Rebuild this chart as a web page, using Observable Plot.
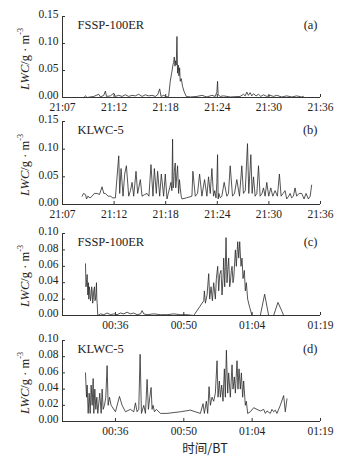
<!DOCTYPE html>
<html><head><meta charset="utf-8">
<script src="https://cdn.jsdelivr.net/npm/d3@7"></script>
<script src="https://cdn.jsdelivr.net/npm/@observablehq/plot@0.6"></script>
<style>
body{margin:0;background:#fff;}
#wrap{position:relative;width:354px;height:456px;overflow:hidden;font-family:"Liberation Serif","Times New Roman","DejaVu Serif",serif;color:#222;}
.panel{position:absolute;left:0;}
.ylab{position:absolute;left:25px;white-space:nowrap;font-size:12.5px;font-family:"Liberation Serif","Times New Roman","DejaVu Serif",serif;transform:translate(-50%,-50%) rotate(-90deg);}
.ylab sup{font-size:8px;vertical-align:6px;line-height:0;}
.xlab{position:absolute;left:205px;top:447px;transform:translate(-50%,-50%);font-family:"Noto Sans CJK SC",sans-serif;font-size:12.5px;white-space:nowrap;}
</style></head>
<body><div id="wrap"></div>
<script>
// ---- tick labels ----
const abTicks = [0, 6, 12, 18, 24, 30];
const abLabels = ["21:07", "21:12", "21:18", "21:24", "21:30", "21:36"];
const cdTicks = [36, 50, 64, 78];
const cdLabels = ["00:36", "00:50", "01:04", "01:19"];
const abYTicks = [0, 0.05, 0.10, 0.15];
const cdYTicks = [0, 0.02, 0.04, 0.06, 0.08, 0.10];

// ---- (a) FSSP-100ER, evening flight (minutes after 21:07 on nominal axis) ----
const aT = [2.48,2.67,2.86,3.64,4.22,4.41,4.80,4.99,5.11,5.57,5.96,6.15,6.54,6.92,7.31,7.70,8.09,8.47,8.86,9.25,9.63,10.02,10.41,10.79,11.06,11.30,11.45,11.76,12.15,12.34,12.53,12.69,12.84,12.92,13.00,13.08,13.15,13.23,13.31,13.38,13.46,13.54,13.62,13.69,13.81,13.97,14.16,14.39,14.86,15.63,16.21,16.79,17.37,17.76,17.95,18.03,18.10,18.34,18.72,19.50,20.66,21.04,21.24,21.43,21.62,21.82,22.01,22.21,22.51,22.79,23.06,23.37,23.75,24.14,24.53,24.91,25.49,26.07,26.65,27.23,27.81,28.01];
const aV = [0,0.003,0,0.002,0.006,0.001,0.004,0.012,0.002,0.003,0.008,0.002,0.004,0.002,0.005,0.002,0.004,0.003,0.006,0.002,0.005,0.003,0.004,0.002,0.005,0.016,0.002,0.004,0.001,0.002,0.03,0.045,0.06,0.065,0.075,0.058,0.068,0.06,0.113,0.045,0.06,0.04,0.055,0.03,0.035,0.02,0.01,0.002,0.001,0.002,0.004,0.001,0.004,0.002,0.01,0.03,0.005,0.002,0.003,0.001,0.002,0.006,0.003,0.01,0.004,0.009,0.003,0.007,0.003,0.006,0.002,0.005,0.002,0.004,0.002,0.004,0.001,0.003,0.001,0.003,0.001,0.002];

// ---- (b) KLWC-5, evening flight ----
const bT = [2.28,2.45,2.67,2.80,2.94,3.20,3.44,3.70,4.02,4.30,4.60,4.80,4.99,5.30,5.57,5.85,6.15,6.54,6.65,6.81,7.04,7.23,7.43,7.70,7.90,8.09,8.28,8.55,8.74,9.05,9.25,9.55,9.83,10.05,10.29,10.52,10.68,10.91,11.06,11.30,11.49,11.76,11.95,12.15,12.30,12.46,12.61,12.72,12.80,12.86,12.92,13.00,13.11,13.17,13.23,13.30,13.38,13.50,13.60,13.69,13.80,13.89,14.40,15.05,15.16,15.44,15.70,15.94,16.21,16.52,16.79,16.98,17.18,17.37,17.56,17.70,17.85,17.95,18.03,18.10,18.18,18.35,18.53,18.80,19.11,19.30,19.50,19.77,20.00,20.27,20.58,20.85,21.04,21.25,21.51,21.66,21.90,22.05,22.21,22.40,22.60,22.79,22.98,23.20,23.37,23.56,23.75,23.98,24.22,24.45,24.72,24.99,25.22,25.42,25.65,25.88,26.07,26.30,26.46,26.65,26.85,27.04,27.23,27.50,27.81,28.09,28.32,28.59,28.80,28.97];
const bV = [0.015,0.02,0.018,0.01,0.015,0.012,0.015,0.02,0.02,0.018,0.032,0.02,0.02,0.015,0.015,0.012,0.012,0.088,0.02,0.065,0.015,0.055,0.07,0.015,0.025,0.04,0.015,0.06,0.02,0.045,0.015,0.018,0.02,0.015,0.072,0.015,0.065,0.02,0.06,0.015,0.055,0.015,0.055,0.01,0.02,0.03,0.04,0.025,0.118,0.03,0.035,0.06,0.075,0.03,0.04,0.055,0.07,0.02,0.045,0.03,0.015,0.01,0.012,0.015,0.06,0.015,0.02,0.055,0.015,0.045,0.015,0.05,0.02,0.065,0.015,0.025,0.012,0.04,0.09,0.01,0.02,0.012,0.015,0.04,0.015,0.02,0.07,0.015,0.02,0.045,0.015,0.07,0.02,0.025,0.11,0.02,0.09,0.02,0.05,0.015,0.02,0.07,0.015,0.02,0.03,0.015,0.04,0.015,0.03,0.015,0.025,0.015,0.055,0.015,0.02,0.025,0.01,0.015,0.02,0.012,0.015,0.03,0.015,0.02,0.02,0.01,0.02,0.01,0.015,0.035];

// ---- (c) FSSP-100ER, night flight (minutes after 00:00) ----
const cT = [29.86,29.96,30.07,30.20,30.34,30.45,30.54,30.65,30.75,30.88,31.02,31.12,31.23,31.33,31.43,31.55,31.70,31.80,31.91,32.01,32.11,32.18,32.25,32.38,32.93,33.61,34.29,34.98,35.66,36.34,37.02,37.71,38.39,39.07,39.75,40.43,41.12,41.46,41.80,42.48,43.84,45.21,46.57,47.94,49.30,50.67,52.03,54.08,54.21,54.42,54.76,55.10,55.30,55.58,55.85,56.12,56.46,56.67,56.94,57.15,57.35,57.62,57.83,58.03,58.17,58.38,58.51,58.65,58.85,59.06,59.19,59.40,59.53,59.74,59.88,60.08,60.22,60.42,60.56,60.76,60.90,61.04,61.25,61.45,61.58,61.72,61.92,62.13,62.26,62.40,62.60,62.81,63.08,63.49,63.97,65.67,66.56,67.38,68.40,69.29,70.11,70.45,71.13];
const cV = [0.063,0.035,0.04,0.05,0.025,0.04,0.02,0.035,0.03,0.018,0.025,0.035,0.03,0.015,0.02,0.03,0.035,0.018,0.02,0.028,0.04,0.02,0.015,0,0.002,0.001,0.003,0.001,0.002,0.001,0.003,0.002,0.004,0.002,0.003,0.001,0.002,0.006,0.002,0.001,0.002,0.001,0.001,0.002,0.001,0.001,0,0.018,0.03,0.015,0.025,0.051,0.02,0.035,0.018,0.04,0.02,0.045,0.06,0.03,0.05,0.055,0.025,0.045,0.07,0.035,0.06,0.095,0.04,0.06,0.07,0.035,0.04,0.055,0.06,0.04,0.045,0.065,0.08,0.06,0.075,0.09,0.07,0.09,0.075,0.06,0.07,0.045,0.05,0.055,0.03,0.04,0.02,0.01,0,0,0.026,0,0,0.016,0.005,0,0];

// ---- (d) KLWC-5, night flight ----
const dT = [29.86,30.07,30.20,30.41,30.61,30.82,31.02,31.23,31.43,31.57,31.77,31.98,32.18,32.38,32.79,33.07,33.27,33.48,33.75,34.02,34.29,34.50,34.77,35.11,36.00,36.82,37.36,38.05,39.07,39.75,40.09,40.43,40.77,41.05,41.32,41.80,42.14,42.48,42.75,43.03,43.30,43.50,43.71,43.98,44.39,45.21,46.57,49.30,51.35,53.39,53.94,54.21,54.62,54.89,55.17,55.44,55.78,56.12,56.46,56.81,57.01,57.28,57.49,57.76,58.03,58.31,58.51,58.72,58.99,59.19,59.53,59.88,60.08,60.35,60.56,60.90,61.10,61.31,61.58,61.79,62.06,62.26,62.60,62.81,63.08,63.63,64.31,65.67,66.36,66.70,67.04,67.72,68.06,68.40,68.74,69.08,69.77,70.45,70.79,71.13];
const dV = [0.06,0.03,0.045,0.01,0.035,0.01,0.045,0.02,0.053,0.01,0.04,0.015,0.03,0.01,0.035,0.01,0.04,0.015,0.02,0.03,0.069,0.02,0.03,0.02,0.012,0.031,0.02,0.012,0.015,0.012,0.023,0.012,0.015,0.083,0.01,0.02,0.01,0.052,0.015,0.03,0.042,0.015,0.02,0.012,0.015,0.01,0.01,0.012,0.014,0.01,0.022,0.01,0.025,0.01,0.043,0.02,0.03,0.025,0.035,0.075,0.03,0.05,0.03,0.045,0.025,0.065,0.03,0.088,0.035,0.06,0.03,0.07,0.04,0.055,0.035,0.075,0.04,0.065,0.04,0.06,0.03,0.05,0.02,0.025,0.01,0.012,0.017,0.013,0.015,0.01,0.013,0.01,0.015,0.012,0.014,0.01,0.02,0.032,0.012,0.028];

const panels = [
  {t:aT, v:aV, name:"FSSP-100ER", tag:"(a)", xDomain:[0,30], xTicks:abTicks, xLabels:abLabels, yDomain:[0,0.15], yTicks:abYTicks, top:0, height:114},
  {t:bT, v:bV, name:"KLWC-5", tag:"(b)", xDomain:[0,30], xTicks:abTicks, xLabels:abLabels, yDomain:[0,0.15], yTicks:abYTicks, top:105, height:116},
  {t:cT, v:cV, name:"FSSP-100ER", tag:"(c)", xDomain:[25.15,78], xTicks:cdTicks, xLabels:cdLabels, yDomain:[0,0.10], yTicks:cdYTicks, top:217, height:115},
  {t:dT, v:dV, name:"KLWC-5", tag:"(d)", xDomain:[25.15,78], xTicks:cdTicks, xLabels:cdLabels, yDomain:[0,0.10], yTicks:cdYTicks, top:324, height:114}
];

const FONT = '"Liberation Serif", "Times New Roman", "DejaVu Serif", serif';
const wrap = document.getElementById("wrap");
const W = 354, ML = 62, MR = 34, MT = 16, MB = 17;
for (const p of panels) {
  const data = p.t.map((x, i) => ({x, y: p.v[i]}));
  const innerH = p.height - MT - MB, innerW = W - ML - MR;
  const svg = Plot.plot({
    width: W, height: p.height,
    marginLeft: ML, marginRight: MR, marginTop: MT, marginBottom: MB,
    style: {fontFamily: FONT, fontSize: "11.5px", background: "transparent", color: "#222", overflow: "visible"},
    x: {domain: p.xDomain},
    y: {domain: p.yDomain},
    marks: [
      Plot.line(data, {x: "x", y: "y", stroke: "#2a2a2a", strokeWidth: 0.8}),
      Plot.ruleY([p.yDomain[0]], {stroke: "#333", strokeWidth: 1}),
      Plot.ruleX([p.xDomain[0]], {stroke: "#333", strokeWidth: 1}),
      Plot.tickX(p.xTicks, {x: d => d, insetTop: innerH - 3, stroke: "#333"}),
      Plot.tickY(p.yTicks, {y: d => d, insetRight: innerW - 3, stroke: "#333"}),
      Plot.axisX({ticks: p.xTicks, tickFormat: d => p.xLabels[p.xTicks.indexOf(d)], tickSize: 0, tickPadding: 5, label: null, fontFamily: FONT}),
      Plot.axisY({ticks: p.yTicks, tickFormat: d => d.toFixed(2), tickSize: 0, tickPadding: 4, dy: -2, label: null, fontFamily: FONT}),
      Plot.text([p.name], {frameAnchor: "top-left", textAnchor: "start", lineAnchor: "middle", dx: 15, dy: 8, fontSize: 12.5, fill: "#222", fontFamily: FONT}),
      Plot.text([p.tag], {frameAnchor: "top-right", textAnchor: "end", lineAnchor: "middle", dx: -3, dy: 8, fontSize: 12.5, fill: "#222", fontFamily: FONT})
    ]
  });
  svg.classList.add("panel");
  svg.style.top = p.top + "px";
  wrap.appendChild(svg);
  const yl = document.createElement("div");
  yl.className = "ylab";
  yl.style.top = (p.top + MT + innerH / 2 + 2) + "px";
  yl.innerHTML = "<i>LWC</i>/g · m<sup>-3</sup>";
  wrap.appendChild(yl);
}
const xl = document.createElement("div");
xl.className = "xlab";
xl.textContent = "时间/BT";
wrap.appendChild(xl);
</script>
</body></html>
